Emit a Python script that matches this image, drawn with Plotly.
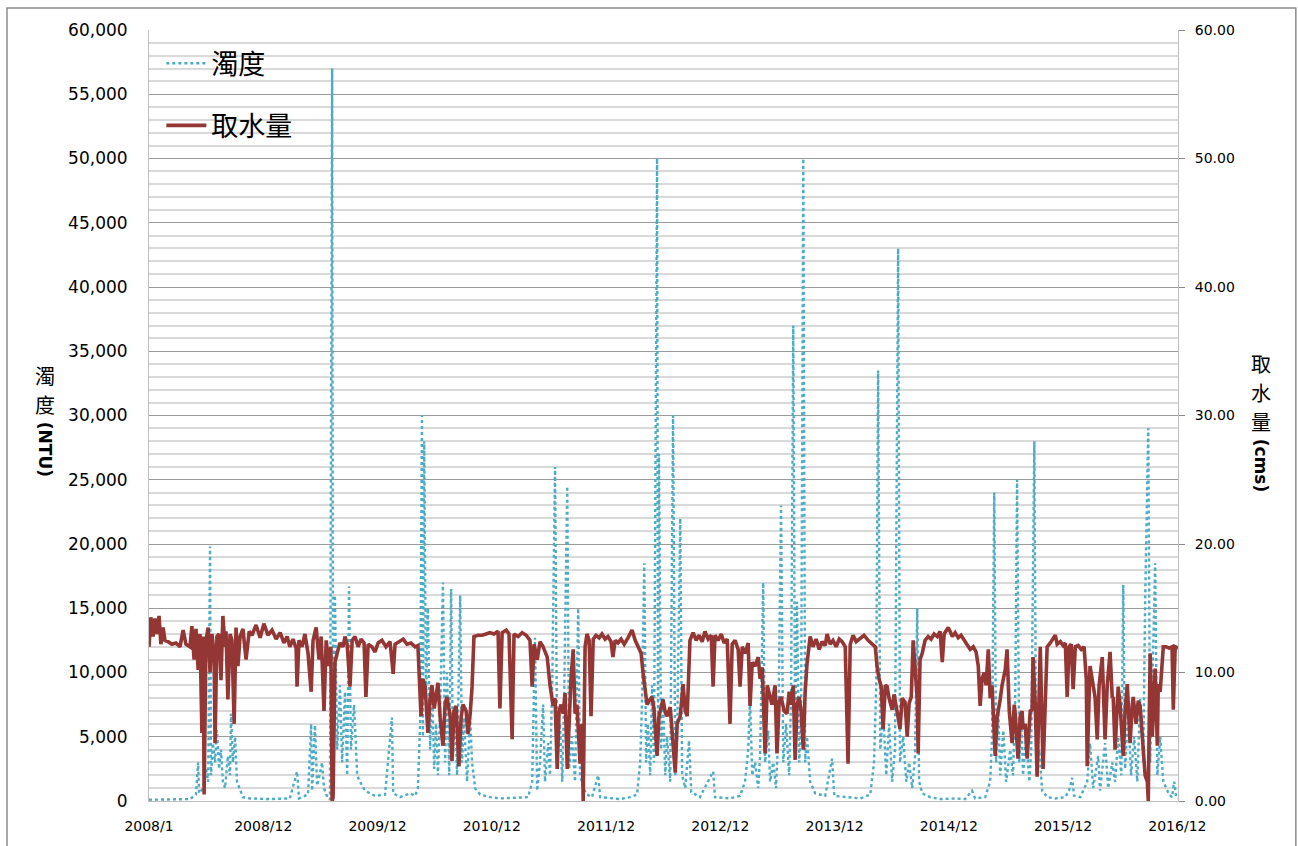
import pandas as pd
import plotly.graph_objects as go

# ---- data: days since 2008-01-01 and values ----
turb_day = [0, 35, 83, 131, 150, 157, 160, 173, 182, 189, 195, 198, 204, 211, 217, 224, 230, 236, 243, 252,
            259, 262, 268, 275, 281, 291, 300, 323, 387, 450, 473, 479, 508, 518, 521, 530, 537, 543, 553, 559,
            566, 578, 585, 588, 594, 601, 610, 617, 626, 633, 639, 645, 655, 665, 674, 690, 722, 754, 776, 780,
            802, 834, 850, 859, 866, 872, 875, 879, 885, 891, 898, 904, 911, 917, 923, 930, 939, 946, 952, 959,
            965, 971, 978, 984, 994, 1000, 1006, 1016, 1026, 1032, 1042, 1058, 1089, 1121, 1153, 1185, 1211, 1224, 1233, 1240,
            1249, 1259, 1265, 1275, 1281, 1288, 1297, 1304, 1313, 1320, 1326, 1336, 1342, 1351, 1361, 1371, 1377, 1387, 1399, 1415,
            1435, 1441, 1473, 1505, 1537, 1559, 1569, 1575, 1582, 1588, 1594, 1601, 1607, 1613, 1623, 1626, 1629, 1636, 1642, 1649,
            1655, 1665, 1674, 1681, 1687, 1697, 1703, 1713, 1725, 1732, 1760, 1802, 1808, 1856, 1888, 1904, 1914, 1920, 1927, 1936,
            1946, 1952, 1962, 1968, 1978, 1984, 1994, 2003, 2010, 2019, 2026, 2035, 2045, 2051, 2058, 2064, 2070, 2077, 2083, 2090,
            2096, 2102, 2112, 2128, 2160, 2182, 2189, 2224, 2272, 2304, 2316, 2323, 2329, 2336, 2345, 2355, 2364, 2374, 2383, 2393,
            2399, 2409, 2419, 2428, 2438, 2447, 2454, 2460, 2470, 2495, 2527, 2575, 2607, 2629, 2639, 2671, 2687, 2693, 2700, 2706,
            2713, 2719, 2729, 2738, 2751, 2760, 2767, 2773, 2780, 2786, 2792, 2802, 2812, 2818, 2828, 2834, 2844, 2853, 2869, 2895,
            2927, 2939, 2949, 2955, 2975, 2997, 3006, 3016, 3032, 3038, 3054, 3064, 3077, 3086, 3096, 3106, 3112, 3118, 3128, 3137,
            3147, 3157, 3166, 3176, 3182, 3192, 3198, 3205, 3214, 3221, 3230, 3240, 3249, 3259, 3268, 3275, 3281, 3287]
turbidity = [100, 100, 100, 150, 500, 3000, 600, 1000, 2500, 1500, 19800, 2000, 4500, 3000, 5500, 2500, 4000, 1500, 1000, 3500,
             2000, 6800, 3000, 5000, 1500, 800, 300, 200, 150, 200, 2300, 200, 500, 6000, 800, 5900, 1200, 1800, 3000, 1000,
             500, 100, 57000, 2000, 16000, 4000, 9000, 3000, 8500, 2000, 16700, 4000, 7500, 2000, 1500, 800, 400, 500, 6500, 600,
             300, 600, 400, 1000, 6000, 30000, 5000, 28000, 8000, 15000, 4000, 9000, 2500, 6000, 2000, 7000, 17000, 3000, 10000, 2000,
             16500, 3500, 7000, 2000, 16000, 3000, 6500, 1500, 6500, 3000, 1000, 500, 300, 200, 250, 300, 300, 1500, 12700, 800,
             3000, 7500, 1500, 4500, 2000, 9000, 26000, 3000, 6000, 1500, 8000, 24500, 2500, 5000, 1500, 15000, 2000, 1000, 500, 300,
             2000, 300, 200, 150, 300, 500, 3000, 8000, 18500, 3000, 6000, 2000, 9000, 3000, 50000, 5000, 27000, 4000, 8000, 2000,
             5000, 1500, 30000, 2000, 5000, 22000, 2000, 1000, 4700, 700, 300, 2300, 300, 200, 400, 1500, 4000, 8000, 2000, 3000,
             1000, 3500, 17000, 3000, 5500, 1500, 3000, 1000, 5000, 23000, 3000, 6000, 2000, 8000, 37000, 4000, 15500, 3000, 6000, 50000,
             3000, 5000, 1500, 600, 400, 3300, 400, 300, 200, 500, 3000, 9000, 33500, 4000, 7000, 2000, 6000, 1500, 4000, 43000,
             3000, 5000, 1500, 3000, 1000, 3500, 15000, 1500, 600, 300, 150, 200, 150, 800, 200, 300, 1500, 5000, 24000, 3000,
             7000, 2000, 5500, 1500, 4000, 2000, 8000, 25000, 3000, 7000, 2000, 5000, 1500, 4000, 28000, 2000, 4000, 800, 300, 200,
             300, 800, 1800, 400, 300, 1500, 4500, 1000, 3500, 800, 4500, 1000, 3000, 1500, 5000, 2000, 16800, 2500, 7000, 2000,
             5000, 1500, 8000, 3000, 15500, 29000, 3000, 9000, 18500, 2000, 5000, 1500, 1000, 500, 300, 1500, 300, 200]

intake_day = [0, 6, 13, 19, 26, 32, 38, 45, 51, 61, 73, 86, 99, 109, 118, 131, 137, 144, 150, 157,
              163, 169, 173, 176, 182, 189, 195, 201, 208, 211, 217, 224, 230, 236, 243, 246, 252, 259, 265, 272,
              278, 284, 291, 300, 310, 320, 329, 342, 355, 367, 380, 393, 406, 419, 431, 441, 450, 460, 470, 473,
              479, 489, 498, 508, 518, 524, 534, 543, 550, 559, 566, 575, 581, 585, 588, 594, 601, 610, 620, 626,
              633, 642, 649, 658, 668, 677, 687, 693, 700, 712, 722, 732, 744, 757, 770, 780, 786, 799, 812, 824,
              837, 850, 859, 869, 875, 882, 891, 898, 904, 911, 917, 923, 930, 939, 946, 952, 962, 968, 974, 981,
              990, 997, 1003, 1013, 1019, 1026, 1032, 1038, 1051, 1064, 1077, 1089, 1102, 1115, 1121, 1128, 1141, 1150, 1160, 1166,
              1179, 1192, 1205, 1217, 1224, 1230, 1240, 1249, 1259, 1272, 1281, 1291, 1297, 1304, 1310, 1316, 1323, 1329, 1336, 1342,
              1348, 1355, 1361, 1367, 1377, 1383, 1387, 1393, 1399, 1406, 1412, 1419, 1428, 1438, 1447, 1457, 1466, 1476, 1482, 1489,
              1498, 1508, 1518, 1530, 1543, 1553, 1562, 1572, 1578, 1585, 1591, 1598, 1607, 1613, 1623, 1629, 1636, 1642, 1649, 1655,
              1665, 1671, 1681, 1687, 1697, 1706, 1713, 1719, 1725, 1728, 1738, 1748, 1757, 1767, 1776, 1786, 1796, 1802, 1808, 1818,
              1828, 1837, 1847, 1856, 1863, 1872, 1882, 1888, 1895, 1904, 1914, 1920, 1927, 1936, 1946, 1952, 1959, 1968, 1975, 1984,
              1990, 2000, 2006, 2013, 2019, 2029, 2038, 2045, 2051, 2058, 2064, 2070, 2077, 2083, 2090, 2096, 2102, 2112, 2121, 2131,
              2141, 2150, 2160, 2166, 2176, 2185, 2195, 2205, 2214, 2224, 2233, 2240, 2249, 2259, 2272, 2284, 2297, 2310, 2320, 2326,
              2332, 2339, 2345, 2352, 2358, 2364, 2374, 2380, 2387, 2393, 2399, 2406, 2415, 2422, 2428, 2435, 2441, 2447, 2454, 2457,
              2463, 2470, 2479, 2489, 2498, 2508, 2518, 2527, 2534, 2540, 2546, 2553, 2559, 2566, 2575, 2585, 2594, 2604, 2614, 2623,
              2633, 2642, 2649, 2655, 2661, 2668, 2674, 2681, 2687, 2693, 2703, 2709, 2719, 2725, 2735, 2741, 2748, 2757, 2764, 2767,
              2776, 2783, 2789, 2792, 2799, 2805, 2815, 2821, 2824, 2831, 2837, 2844, 2847, 2856, 2863, 2869, 2879, 2888, 2895, 2901,
              2911, 2920, 2927, 2933, 2939, 2946, 2952, 2959, 2968, 2978, 2987, 2994, 2997, 3003, 3006, 3016, 3022, 3029, 3035, 3045,
              3051, 3054, 3061, 3070, 3077, 3080, 3086, 3093, 3096, 3102, 3112, 3118, 3125, 3131, 3134, 3141, 3144, 3153, 3160, 3166,
              3173, 3176, 3182, 3189, 3192, 3195, 3198, 3205, 3211, 3214, 3221, 3224, 3230, 3237, 3240, 3249, 3259, 3268, 3272, 3278,
              3287]
intake = [12.0, 14.3, 12.8, 14.2, 13.0, 14.4, 12.2, 13.5, 12.5, 12.4, 12.2, 12.3, 12.0, 13.3, 12.2, 12.0, 13.6, 11.0, 13.4, 10.2,
          13.0, 5.3, 12.8, 0.5, 12.5, 13.5, 10.0, 13.0, 11.5, 4.5, 12.8, 13.0, 9.4, 14.4, 12.0, 13.2, 7.9, 13.0, 12.5, 6.0,
          13.5, 10.5, 12.8, 13.4, 11.0, 13.2, 12.9, 13.7, 12.7, 13.8, 12.9, 13.3, 12.6, 13.1, 12.3, 12.8, 12.0, 12.6, 11.9, 8.9,
          12.5, 12.0, 13.0, 11.5, 8.5, 12.5, 13.5, 11.0, 12.8, 7.0, 12.5, 10.5, 12.0, 0.0, 0.3, 10.8, 11.5, 12.3, 12.0, 12.8,
          12.2, 8.9, 12.5, 12.8, 12.0, 12.6, 12.3, 8.1, 12.2, 12.0, 11.6, 12.3, 12.5, 12.0, 12.4, 9.9, 12.2, 12.4, 12.6, 12.2,
          12.3, 12.0, 12.1, 6.6, 9.5, 8.9, 5.3, 8.0, 9.0, 7.2, 8.2, 9.2, 6.5, 4.3, 7.6, 8.1, 6.6, 3.1, 7.0, 7.4,
          2.7, 6.5, 7.5, 7.0, 5.2, 6.8, 8.9, 12.8, 12.9, 12.9, 13.0, 13.1, 13.0, 13.2, 7.2, 13.1, 13.3, 13.0, 4.8, 13.0,
          12.8, 13.1, 12.9, 12.5, 8.9, 12.2, 11.0, 12.4, 12.0, 11.2, 9.0, 7.4, 8.0, 2.5, 7.0, 7.5, 6.8, 8.4, 2.5, 7.0,
          9.5, 11.8, 6.8, 7.5, 2.9, 6.0, 0.0, 12.0, 13.0, 12.5, 6.6, 12.6, 12.9, 12.7, 13.0, 12.6, 12.8, 12.4, 11.2, 12.5,
          12.3, 12.6, 12.2, 12.7, 13.3, 12.5, 12.0, 11.5, 10.0, 8.7, 7.5, 7.8, 8.1, 7.2, 3.5, 6.6, 7.4, 7.9, 6.9, 6.6,
          7.3, 5.0, 2.2, 6.0, 6.6, 9.1, 7.0, 6.6, 10.5, 12.5, 13.1, 12.5, 12.9, 12.4, 13.2, 12.6, 12.9, 8.9, 12.9, 12.5,
          13.0, 12.3, 12.6, 6.0, 12.2, 12.5, 11.8, 8.9, 12.0, 11.5, 12.3, 7.4, 10.8, 10.5, 11.2, 9.5, 10.4, 3.7, 9.0, 8.1,
          7.5, 9.0, 3.7, 7.8, 8.1, 7.0, 6.8, 8.5, 7.5, 9.0, 3.2, 7.5, 8.1, 7.0, 4.0, 8.5, 10.7, 12.8, 12.0, 12.6,
          11.8, 12.4, 12.1, 13.0, 12.2, 12.5, 12.0, 12.6, 12.4, 12.0, 2.9, 12.2, 12.9, 12.4, 12.7, 12.9, 12.5, 12.2, 12.0, 10.4,
          9.5, 8.9, 5.6, 9.0, 8.9, 8.0, 7.1, 8.3, 7.5, 6.5, 5.6, 8.0, 7.7, 5.0, 7.6, 8.1, 12.5, 10.0, 7.9, 3.7,
          11.0, 11.5, 12.5, 12.8, 12.6, 13.0, 12.8, 13.2, 10.8, 13.0, 13.3, 13.5, 13.2, 12.8, 13.1, 12.7, 12.9, 12.5, 12.2, 11.8,
          12.0, 11.6, 10.5, 7.4, 9.5, 10.0, 9.0, 11.8, 8.0, 9.0, 3.5, 6.5, 7.9, 9.0, 10.2, 11.8, 7.0, 4.5, 7.5, 6.8,
          3.3, 6.6, 7.0, 5.6, 6.0, 3.3, 7.0, 7.1, 11.2, 7.5, 1.9, 8.0, 12.0, 2.5, 8.0, 12.0, 12.3, 12.6, 12.9, 12.2,
          12.4, 12.1, 12.3, 8.1, 12.0, 12.2, 8.7, 12.0, 12.1, 11.8, 12.0, 9.5, 2.7, 8.0, 10.5, 9.0, 8.1, 4.8, 9.0, 11.2,
          7.5, 4.8, 9.0, 11.6, 8.0, 8.1, 4.0, 7.0, 8.9, 7.5, 3.5, 7.0, 9.1, 6.0, 4.5, 7.5, 8.1, 6.0, 7.8, 7.4,
          5.0, 3.5, 2.0, 1.5, 0.0, 6.0, 11.5, 5.0, 9.0, 10.3, 4.3, 9.1, 8.5, 11.0, 12.0, 12.0, 11.9, 12.0, 7.1, 12.0,
          11.9]

tick_dates = ["2008-01-01", "2008-12-31", "2009-12-31", "2010-12-31", "2011-12-31",
              "2012-12-30", "2013-12-30", "2014-12-30", "2015-12-30", "2016-12-29"]
tick_labels = ["2008/1", "2008/12", "2009/12", "2010/12", "2011/12",
               "2012/12", "2013/12", "2014/12", "2015/12", "2016/12"]

base = pd.Timestamp("2008-01-01")
turb_x = base + pd.to_timedelta(turb_day, unit="D")
intake_x = base + pd.to_timedelta(intake_day, unit="D")

FONT = "DejaVu Sans, Noto Sans CJK TC, sans-serif"
CJK = "Noto Sans CJK TC, DejaVu Sans, sans-serif"

fig = go.Figure()
fig.add_trace(go.Scatter(x=turb_x, y=turbidity, mode="lines", name="濁度",
                         line=dict(color="#4BACC6", width=2.4, dash="dot"),
                         legendgroup="a"))
fig.add_trace(go.Scatter(x=intake_x, y=intake, mode="lines", name="取水量",
                         line=dict(color="#943634", width=3.6),
                         yaxis="y2", legendgroup="b"))


def py(px):
    # vertical pixel of the canvas -> paper fraction of plot area (top 30, bottom 805)
    return (805 - px) / 775


def pxx(px):
    return (px - 149) / 1029


title_annots = []
for ch, ypix in [("濁", 377), ("度", 406.5)]:
    title_annots.append(dict(text=ch, xref="paper", yref="paper", x=pxx(45), y=py(ypix),
                             showarrow=False, font=dict(size=20, family=CJK), borderpad=0,
                             xanchor="center", yanchor="middle"))
title_annots.append(dict(text="<b>(NTU)</b>", xref="paper", yref="paper", x=pxx(45), y=py(451),
                         showarrow=False, textangle=90, font=dict(size=17, family=FONT), borderpad=0,
                         xanchor="center", yanchor="middle"))
for ch, ypix in [("取", 365), ("水", 394.5), ("量", 424)]:
    title_annots.append(dict(text=ch, xref="paper", yref="paper", x=pxx(1261), y=py(ypix),
                             showarrow=False, font=dict(size=20, family=CJK), borderpad=0,
                             xanchor="center", yanchor="middle"))
title_annots.append(dict(text="<b>(cms)</b>", xref="paper", yref="paper", x=pxx(1261), y=py(467),
                         showarrow=False, textangle=90, font=dict(size=17, family=FONT), borderpad=0,
                         xanchor="center", yanchor="middle"))

fig.update_layout(
    width=1298, height=846,
    margin=dict(l=149, r=120, t=30, b=41),
    paper_bgcolor="white", plot_bgcolor="white",
    font=dict(family=FONT, color="#000000"),
    showlegend=True,
    legend=dict(x=0.012, y=0.988, xanchor="left", yanchor="top",
                font=dict(size=27, family=CJK, color="#000"),
                bgcolor="rgba(0,0,0,0)", tracegroupgap=24, itemwidth=40),
    xaxis=dict(type="date", range=["2008-01-01", "2016-12-31"],
               tickvals=tick_dates, ticktext=tick_labels,
               showgrid=False, showline=True, linecolor="#BFBFBF", linewidth=1,
               ticks="", tickfont=dict(size=14, family=FONT), ticklabelstandoff=12,
               zeroline=False),
    yaxis=dict(range=[0, 60000], dtick=5000, tickformat=",",
               showgrid=True, gridcolor="#9A9A9A", gridwidth=1,
               minor=dict(dtick=1000, showgrid=True, gridcolor="#D9D9D9", gridwidth=1.5),
               showline=True, linecolor="#BFBFBF", linewidth=1,
               ticks="", tickfont=dict(size=17, family=FONT), ticklabelstandoff=17,
               zeroline=False),
    yaxis2=dict(range=[0, 60], dtick=10, tickformat=".2f", overlaying="y", side="right",
                showgrid=False, showline=True, linecolor="#BFBFBF", linewidth=1,
                ticks="outside", ticklen=6, tickcolor="#888888", tickprefix="\u2002",
                tickfont=dict(size=14, family=FONT),
                zeroline=False),
    shapes=[dict(type="rect", xref="paper", yref="paper",
                 x0=-0.138, x1=1.1145, y0=-0.08, y1=1.0284,
                 line=dict(color="#8C8C8C", width=1.5), fillcolor="rgba(0,0,0,0)", layer="below")],
    annotations=title_annots,
)

fig.write_html("out.html", config={"displayModeBar": False},
               post_script="document.body.style.margin='0';")
